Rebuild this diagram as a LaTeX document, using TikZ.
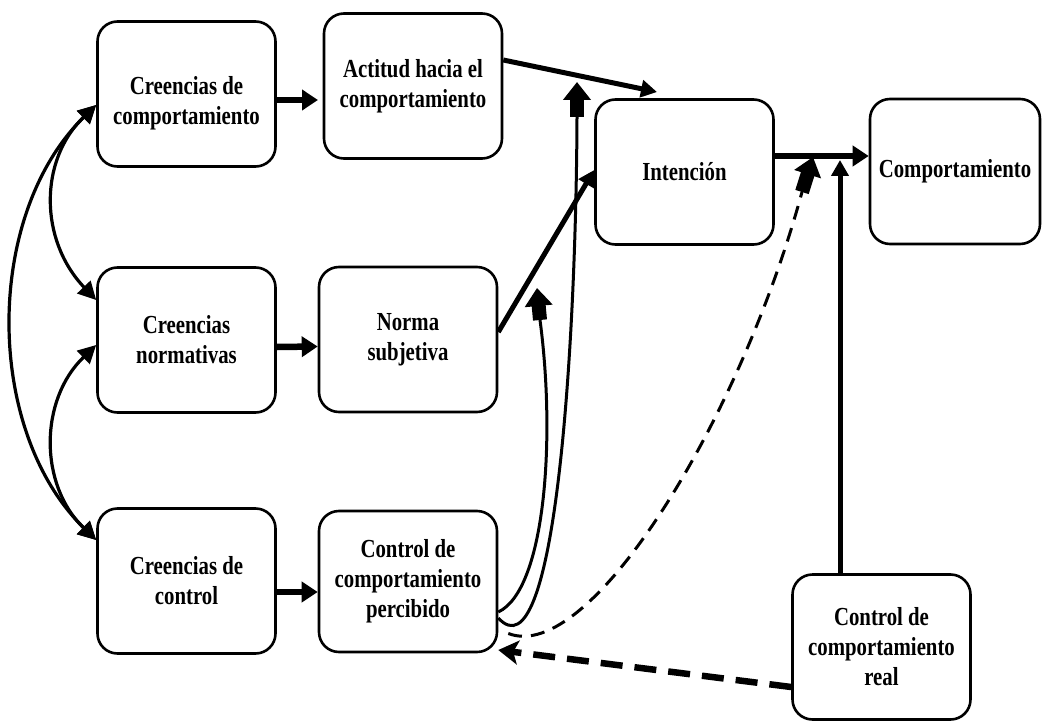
\documentclass[tikz,border=0pt]{standalone}
\usepackage{fontspec}
\setmainfont{Liberation Serif}[FakeStretch=0.8]
\usetikzlibrary{arrows.meta}

\tikzset{
  box/.style={draw, line width=2.6pt, rounded corners=20pt, align=center,
    inner sep=0pt, minimum width=178pt, minimum height=145pt,
    font=\fontsize{26}{30}\selectfont\bfseries},
  bigarrow/.style={line width=6.5pt, -{Triangle[width=20pt,length=16pt]}},
  midarrow/.style={line width=5pt, -{Triangle[width=17pt,length=16pt]}},
  linkcurve/.style={line width=3pt},
  blockhead/.style={line width=14pt, -{Triangle[width=27pt,length=18pt]}},
  mutual/.style={line width=3.2pt,
    {Triangle[width=18pt,length=18pt]}-{Triangle[width=18pt,length=18pt]}},
  thindash/.style={line width=3pt, dash pattern=on 14pt off 9pt},
  thickdash/.style={line width=6.5pt, dash pattern=on 22pt off 12pt,
    -{Stealth[width=24pt,length=20pt,inset=5pt]}},
}

\begin{document}
\begin{tikzpicture}[x=1pt,y=-1pt]
\useasboundingbox (0,0) rectangle (1043,722);

% boxes
\node[box] (cb)  at (186.5,94)   {\rule{0pt}{37pt}Creencias de\\comportamiento};
\node[box] (act) at (413,86)     {Actitud hacia el\\comportamiento};
\node[box] (int) at (684.5,172)  {Intención};
\node[box, minimum width=170pt] (comp) at (955,171.5) {Comportamiento};
\node[box] (cn)  at (186.5,340)  {Creencias\\normativas};
\node[box] (ns)  at (408,339.5)  {Norma\\subjetiva};
\node[box] (cc)  at (186.5,581)  {Creencias de\\control};
\node[box, minimum height=141pt] (ccp) at (408,581.5) {Control de\\comportamiento\\percibido};
\node[box] (ccr) at (881.5,647)  {Control de\\comportamiento\\real};

% free ends
\coordinate (actin) at (318,100);
\coordinate (inttop) at (657,92);
\coordinate (onlink) at (840,160);
\coordinate (stemA) at (577,117);
\coordinate (tipA)  at (577,82);
\coordinate (stemB) at (540,320);
\coordinate (tipB)  at (537,288);
\coordinate (stemC) at (802,192);
\coordinate (tipC)  at (813,157);

% beliefs to attitudes
\draw[bigarrow] ([yshift=-6pt]cb.east) -- (actin);
\draw[bigarrow] ([yshift=-7pt]cn.east) -- ([yshift=-7pt]ns.west);
\draw[bigarrow] ([yshift=-11pt]cc.east) -- ([yshift=-10.5pt]ccp.west);

% attitudes to intention
\draw[midarrow] ([yshift=26pt]act.east) -- (inttop);
\draw[midarrow] ([yshift=7.5pt]ns.east) -- ([yshift=2pt]int.west);
\draw[bigarrow] ([yshift=16pt]int.east) -- ([yshift=15.5pt]comp.west);

% correlations among beliefs
\draw[mutual] ([yshift=-11pt]cb.west) .. controls (39,160) and (39,240) .. ([yshift=40pt]cn.west);
\draw[mutual] ([yshift=-11pt]cb.west) .. controls (-16,215) and (-16,430) .. ([yshift=41pt]cc.west);
\draw[mutual] ([yshift=-5pt]cn.west) .. controls (39,400) and (39,485) .. ([yshift=41pt]cc.west);

% perceived control moderating links
\draw[linkcurve] ([yshift=-36.5pt]ccp.east) .. controls (555,680) and (576,350) .. (stemA);
\draw[blockhead] (stemA) -- (tipA);
\draw[linkcurve] ([yshift=-30.5pt]ccp.east) .. controls (545,590) and (556,440) .. (stemB);
\draw[blockhead] (stemB) -- (tipB);

% perceived control to behaviour
\draw[thindash] ([xshift=10pt,yshift=-52pt]ccp.east) .. controls (590,665) and (740,420) .. (stemC);
\draw[blockhead] (stemC) -- (tipC);

% actual control
\draw[midarrow] ([xshift=-41.5pt]ccr.north) -- (onlink);
\draw[thickdash] ([yshift=-40pt]ccr.west) -- ([yshift=-68.5pt]ccp.east);

\end{tikzpicture}
\end{document}
